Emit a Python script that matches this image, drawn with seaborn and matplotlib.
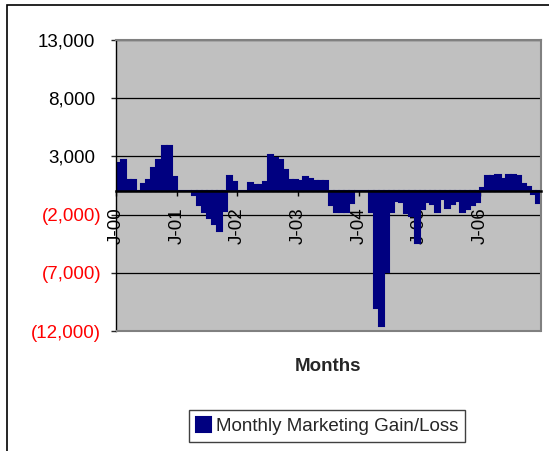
import numpy as np
import pandas as pd
import matplotlib
matplotlib.use("Agg")
import matplotlib.pyplot as plt
import matplotlib.transforms as mtransforms
from matplotlib.patches import Rectangle
import seaborn as sns

# monthly gain/loss, Jan..Dec of each year
gain_2000 = [2400, 2700, 1000, 1000, 0, 600, 1000, 2000, 2700, 3900, 3900, 1200]
gain_2001 = [0, 0, 0, -350, -1200, -1800, -2300, -2850, -3400, -1700, 1300, 800]
gain_2002 = [0, 0, 700, 550, 550, 800, 3150, 2850, 2700, 1850, 1000, 1000]
gain_2003 = [900, 1200, 1100, 900, 900, 900, -1200, -1800, -1800, -1800, -1000, 0]
gain_2004 = [0, 0, -1800, -10000, -11600, -6900, -1800, -800, -900, -1900, -2100, -4400]
gain_2005 = [-1500, -900, -1100, -1800, -700, -1400, -1100, -800, -1800, -1500, -1200, -900]
gain_2006 = [300, 1300, 1300, 1400, 1100, 1400, 1400, 1300, 600, 350, -200, -1000]

year_labels = ["J-00", "J-01", "J-02", "J-03", "J-04", "J-05", "J-06"]
y_ticks = [-12000, -7000, -2000, 3000, 8000, 13000]
series_name = "Monthly Marketing Gain/Loss"

gains = (gain_2000 + gain_2001 + gain_2002 + gain_2003 +
         gain_2004 + gain_2005 + gain_2006)
months = pd.date_range("2000-01-01", periods=len(gains), freq="MS").strftime("%b-%y")
df = pd.DataFrame({"month": months, "gain": gains})

sns.set_theme(style="white")
plt.rcParams["font.family"] = ["Liberation Sans", "DejaVu Sans"]
FS = 13.5
NAVY = "#000080"

fig = plt.figure(figsize=(5.49, 4.51), dpi=100)
ax = fig.add_axes([116 / 549, 1 - 331 / 451, 425 / 549, 291 / 451])
ax.set_facecolor("#C0C0C0")

sns.barplot(data=df, x="month", y="gain", color=NAVY, saturation=1, width=1,
            edgecolor=NAVY, linewidth=1.5, label=series_name, ax=ax, zorder=1)

ax.set_xlim(-0.5, len(gains) - 0.5)
ax.set_ylim(-12000, 13000)

# gridlines behind the bars
ax.hlines(y_ticks, -0.5, len(gains) - 0.5, colors="black", linewidth=0.9, zorder=0.5)

# category axis crosses at zero
ax.spines["bottom"].set_position(("data", 0))
ax.spines["bottom"].set_color("black")
ax.spines["bottom"].set_linewidth(1.8)
ax.spines["bottom"].set_zorder(3)
ax.spines["left"].set_color("black")
ax.spines["left"].set_linewidth(1.0)
for s in ["top", "right"]:
    ax.spines[s].set_color("#808080")
    ax.spines[s].set_linewidth(1.5)
ax.add_patch(Rectangle((0, 0), 1, 0.0001, transform=ax.transAxes, fill=False,
                       edgecolor="#808080", linewidth=1.5, clip_on=False, zorder=3))

ax.set_xticks(np.arange(len(year_labels)) * 12 - 0.5, labels=year_labels)
ax.tick_params(axis="x", direction="out", length=3.6, width=1, pad=8,
               labelsize=FS, labelrotation=90, bottom=True, colors="black")
ax.set_yticks(y_ticks, labels=[f"{v:,}" if v >= 0 else f"({-v:,})" for v in y_ticks])
ax.tick_params(axis="y", direction="out", length=3.6, width=1, pad=7,
               labelsize=FS, left=True)
shift = mtransforms.ScaledTranslation(-0.0625, 0, fig.dpi_scale_trans)
for v, lab in zip(y_ticks, ax.get_yticklabels()):
    if v < 0:
        lab.set_color("#FF0000")
    else:
        lab.set_color("black")
        lab.set_transform(lab.get_transform() + shift)

ax.set_xlabel("Months", fontsize=FS, fontweight="bold")
ax.xaxis.set_label_coords(0.5, -0.1227)
ax.xaxis.label.set_va("center")
ax.set_ylabel("")

leg = ax.legend(loc="center", bbox_to_anchor=(327 / 549, 1 - 426 / 451),
                bbox_transform=fig.transFigure, fontsize=FS, frameon=True,
                fancybox=False, edgecolor="#404040", framealpha=1,
                handlelength=0.8, handleheight=0.9, handletextpad=0.3,
                borderpad=0.35, borderaxespad=0)
leg.get_frame().set_linewidth(1.0)

# chart area border (left and top visible)
fig.add_artist(Rectangle((7 / 549, -0.1), 1.2, 1.1 - 5 / 451, transform=fig.transFigure,
                         fill=False, edgecolor="black", linewidth=1.2))

fig.savefig("out.png", dpi=100)
